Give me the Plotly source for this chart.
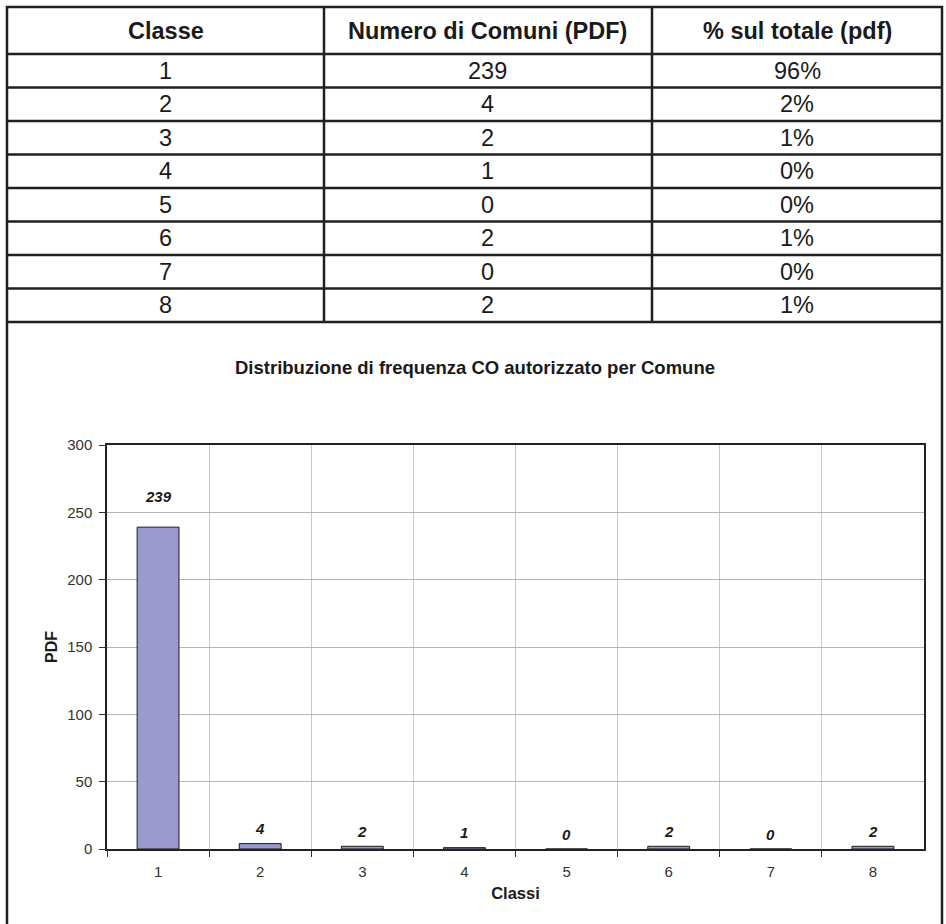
import plotly.graph_objects as go

# ---- data ----
classes = ["1", "2", "3", "4", "5", "6", "7", "8"]
counts = [239, 4, 2, 1, 0, 2, 0, 2]
percent_labels = ["96%", "2%", "1%", "0%", "0%", "1%", "0%", "1%"]
table_headers = ["Classe", "Numero di Comuni (PDF)", "% sul totale (pdf)"]
chart_title = "Distribuzione di frequenza CO autorizzato per Comune"
y_title = "PDF"
x_title = "Classi"
y_ticks = [0, 50, 100, 150, 200, 250, 300]

W, H = 946, 924
FONT = "Liberation Sans, Arial, sans-serif"
LINE = "#231f20"


def px(x):
    return x / W


def py(y):
    return 1 - y / H


fig = go.Figure()

fig.add_trace(go.Bar(
    x=classes, y=counts,
    marker=dict(color="#9999cc", line=dict(color="#1a1a1a", width=1)),
    width=0.41,
    hoverinfo="x+y",
))

# data labels above bars (category index used for placement)
for i, v in enumerate(counts):
    fig.add_annotation(
        x=i, y=v, xref="x", yref="y", text="<b><i>%d</i></b>" % v,
        showarrow=False, yshift=15 + 0.065 * v, yanchor="middle",
        font=dict(family=FONT, size=15, color="#1a1a1a"),
    )

shapes = []
# outer frame
left, right, top, bottom = 7, 942, 7, 940
shapes.append(dict(type="rect", xref="paper", yref="paper",
                   x0=px(left), x1=px(right), y0=py(bottom), y1=py(top),
                   line=dict(color=LINE, width=2.5)))
# table horizontal lines
header_bottom = 54
table_bottom = 322
n_rows = len(classes)
row_h = (table_bottom - header_bottom) / n_rows
for i in range(n_rows + 1):
    yy = header_bottom + i * row_h
    shapes.append(dict(type="line", xref="paper", yref="paper",
                       x0=px(left), x1=px(right), y0=py(yy), y1=py(yy),
                       line=dict(color=LINE, width=2.5)))
col_edges = [left, 324, 652, right]
for xx in col_edges[1:-1]:
    shapes.append(dict(type="line", xref="paper", yref="paper",
                       x0=px(xx), x1=px(xx), y0=py(table_bottom), y1=py(top),
                       line=dict(color=LINE, width=2.5)))

annotations = []
col_centers = [(col_edges[i] + col_edges[i + 1]) / 2 for i in range(3)]
for j, h in enumerate(table_headers):
    annotations.append(dict(
        x=px(col_centers[j]), y=py((top + header_bottom) / 2),
        xref="paper", yref="paper", text="<b>%s</b>" % h, showarrow=False,
        xanchor="center", yanchor="middle",
        font=dict(family=FONT, size=23.5, color="#1a1a1a")))
for i in range(n_rows):
    yc = header_bottom + (i + 0.5) * row_h
    vals = [classes[i], str(counts[i]), percent_labels[i]]
    for j, v in enumerate(vals):
        annotations.append(dict(
            x=px(col_centers[j]), y=py(yc), xref="paper", yref="paper",
            text=v, showarrow=False, xanchor="center", yanchor="middle",
            font=dict(family=FONT, size=23.5, color="#1a1a1a")))

# chart title
annotations.append(dict(
    x=px(475), y=py(367), xref="paper", yref="paper",
    text="<b>%s</b>" % chart_title, showarrow=False,
    xanchor="center", yanchor="middle",
    font=dict(family=FONT, size=18.5, color="#1a1a1a")))

for a in annotations:
    fig.add_annotation(**a)

plot_l, plot_r, plot_t, plot_b = 107, 924, 445, 849

fig.update_layout(
    width=W, height=H,
    margin=dict(l=0, r=0, t=0, b=0),
    paper_bgcolor="white", plot_bgcolor="white",
    showlegend=False,
    shapes=shapes,
    font=dict(family=FONT, size=15, color="#333333"),
    xaxis=dict(
        domain=[px(plot_l), px(plot_r)],
        type="category", tickson="boundaries", automargin=False,
        ticks="outside", ticklen=6, tickcolor="#333333", tickwidth=1,
        ticklabelstandoff=8,
        showgrid=True, gridcolor="#c8c8c8", gridwidth=1,
        showline=True, mirror=True, linecolor="#222222", linewidth=1.5,
        tickfont=dict(family=FONT, size=15, color="#333333"),
        title=dict(text="<b>%s</b>" % x_title, standoff=9,
                   font=dict(family=FONT, size=16.5, color="#1a1a1a")),
        fixedrange=True,
    ),
    yaxis=dict(
        domain=[py(plot_b), py(plot_t)],
        range=[0, 300], tickvals=y_ticks, automargin=False,
        ticks="outside", ticklen=6, tickcolor="#333333", tickwidth=1,
        ticklabelstandoff=4,
        showgrid=True, gridcolor="#b4b4b4", gridwidth=1,
        showline=True, mirror=True, linecolor="#222222", linewidth=1.5,
        zeroline=False,
        tickfont=dict(family=FONT, size=15, color="#333333"),
        title=dict(text="<b>%s</b>" % y_title, standoff=6,
                   font=dict(family=FONT, size=16, color="#1a1a1a")),
        fixedrange=True,
    ),
)

fig.write_html(
    "out.html",
    config={"displayModeBar": False},
    post_script="document.body.style.margin='0';"
                "document.body.style.overflow='hidden';",
)
